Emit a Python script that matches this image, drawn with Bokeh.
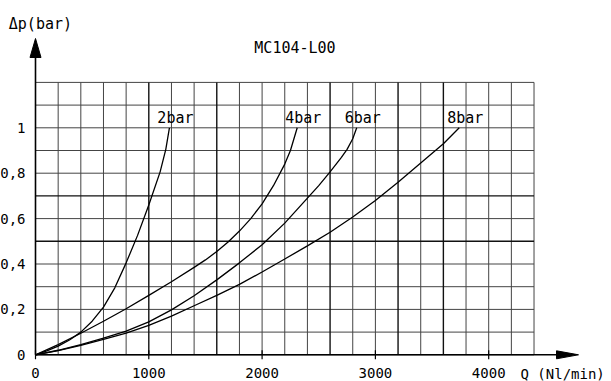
from bokeh.plotting import figure
from bokeh.models import Range1d, Label
from bokeh.core.properties import value
from bokeh.embed import file_html
from bokeh.resources import INLINE

# ---------------- data ----------------
q_2bar = [0, 100, 200, 300, 400, 500, 600, 700, 800, 900, 1000, 1100, 1150, 1182]
dp_2bar = [0, 0.017, 0.038, 0.065, 0.1, 0.148, 0.21, 0.295, 0.405, 0.525, 0.66, 0.806, 0.905, 1.0]

q_4bar = [0, 200, 400, 600, 800, 1000, 1200, 1400, 1500, 1600, 1700, 1800, 1900, 2000, 2100, 2200, 2250, 2310]
dp_4bar = [0, 0.045, 0.095, 0.148, 0.203, 0.262, 0.322, 0.385, 0.418, 0.455, 0.497, 0.545, 0.6, 0.665, 0.745, 0.84, 0.9, 1.0]

q_6bar = [0, 200, 400, 600, 800, 1000, 1200, 1400, 1600, 1800, 2000, 2200, 2400, 2500, 2600, 2700, 2750, 2800, 2835]
dp_6bar = [0, 0.02, 0.045, 0.073, 0.104, 0.145, 0.198, 0.26, 0.33, 0.405, 0.485, 0.58, 0.69, 0.745, 0.806, 0.87, 0.905, 0.952, 1.0]

q_8bar = [0, 200, 400, 600, 800, 1000, 1200, 1400, 1600, 1800, 2000, 2200, 2400, 2600, 2800, 3000, 3200, 3400, 3600, 3740]
dp_8bar = [0, 0.018, 0.042, 0.068, 0.095, 0.13, 0.17, 0.216, 0.262, 0.31, 0.365, 0.422, 0.48, 0.54, 0.607, 0.68, 0.76, 0.845, 0.93, 1.0]

series_names = ["2bar", "4bar", "6bar", "8bar"]

x_ticks = [0, 1000, 2000, 3000, 4000]
x_tick_labels = ["0", "1000", "2000", "3000", "4000"]
y_ticks = [0, 0.2, 0.4, 0.6, 0.8, 1.0]
y_tick_labels = ["0", "0,2", "0,4", "0,6", "0,8", "1"]

x_grid = [i * 200 for i in range(23)]            # 0 .. 4400
y_grid = [round(i * 0.1, 1) for i in range(13)]  # 0 .. 1.2
heavy_x = [1000, 1600, 2600, 3200, 3600]
heavy_y = [0.5, 0.7]

title_text = "MC104-L00"
y_title = "Δp(bar)"
x_title = "Q (Nl/min)"

# ---------------- layout ----------------
W, H = 611, 381
PX_X0, PX_Y0 = 35.0, 354.3          # canvas px of data origin
PX_PER_X = 113.3 / 1000.0
PX_PER_Y = 227.0

def dx(px):
    return px / PX_PER_X

def dy(px):
    return px / PX_PER_Y

x_range = Range1d(-dx(PX_X0), dx(W - PX_X0))
y_range = Range1d(-dy(H - PX_Y0), dy(PX_Y0))

p = figure(width=W, height=H, x_range=x_range, y_range=y_range,
           x_axis_type=None, y_axis_type=None, toolbar_location=None,
           output_backend="svg", min_border=0)
p.outline_line_color = None
p.background_fill_color = "white"
p.border_fill_color = "white"

FONT = value("DejaVu Sans Mono")

x_max = x_grid[-1]
y_max = y_grid[-1]

# grid
light_x = [x for x in x_grid if x not in heavy_x]
light_y = [y for y in y_grid if y not in heavy_y]
p.segment(x0=light_x, y0=[0] * len(light_x), x1=light_x, y1=[y_max] * len(light_x),
          line_color="#444444", line_width=1)
p.segment(x0=[0] * len(light_y), y0=light_y, x1=[x_max] * len(light_y), y1=light_y,
          line_color="#444444", line_width=1)
p.segment(x0=heavy_x, y0=[0] * len(heavy_x), x1=heavy_x, y1=[y_max] * len(heavy_x),
          line_color="#111111", line_width=1.4)
p.segment(x0=[0] * len(heavy_y), y0=heavy_y, x1=[x_max] * len(heavy_y), y1=heavy_y,
          line_color="#111111", line_width=1.4)

# axes with arrows
x_tip = dx(578 - 35)
y_tip = dy(354.3 - 38)
p.line([0, x_tip - dx(10)], [0, 0], line_color="black", line_width=1.6)
p.line([0, 0], [0, y_tip - dy(10)], line_color="black", line_width=1.6)
p.patch([x_tip, x_tip - dx(22), x_tip - dx(22)], [0, dy(4), -dy(4)],
        fill_color="black", line_color="black")
p.patch([0, -dx(5.5), dx(5.5)], [y_tip, y_tip - dy(19), y_tip - dy(19)],
        fill_color="black", line_color="black")

# tick marks on x axis
p.scatter(x_ticks, [0] * len(x_ticks), marker="dash", angle=1.5708, size=9,
          line_color="black", line_width=1.2)

# curves
curves = [(q_2bar, dp_2bar), (q_4bar, dp_4bar), (q_6bar, dp_6bar), (q_8bar, dp_8bar)]
for (qq, dd), name in zip(curves, series_names):
    p.line(qq, dd, line_color="black", line_width=1.3)
    p.text(x=[qq[-1]], y=[dd[-1]], text=[name], text_font=FONT, text_font_size="15px",
           text_align="center", text_baseline="middle", x_offset=6, y_offset=-10,
           text_color="black")

# tick labels
p.text(x=x_ticks, y=[0] * len(x_ticks), text=x_tick_labels, text_font=FONT,
       text_font_size="14px", text_align="center", text_baseline="middle",
       y_offset=18, text_color="black")
p.text(x=[0] * len(y_ticks), y=y_ticks, text=y_tick_labels, text_font=FONT,
       text_font_size="14px", text_align="right", text_baseline="middle",
       x_offset=-10, text_color="black")

# titles
p.add_layout(Label(x=2290, y=dy(354.3 - 47.5), text=title_text, text_font="DejaVu Sans Mono",
                   text_font_size="15px", text_align="center", text_baseline="middle",
                   text_color="black"))
p.add_layout(Label(x=-dx(PX_X0 - 8.3), y=dy(354.3 - 23.0), text=y_title,
                   text_font="DejaVu Sans Mono", text_font_size="15px",
                   text_align="left", text_baseline="middle", text_color="black"))
p.add_layout(Label(x=dx(520 - 35), y=-dy(19.5), text=x_title,
                   text_font="DejaVu Sans Mono", text_font_size="14px",
                   text_align="left", text_baseline="middle", text_color="black"))

open("out.html", "w").write(file_html(p, INLINE))
